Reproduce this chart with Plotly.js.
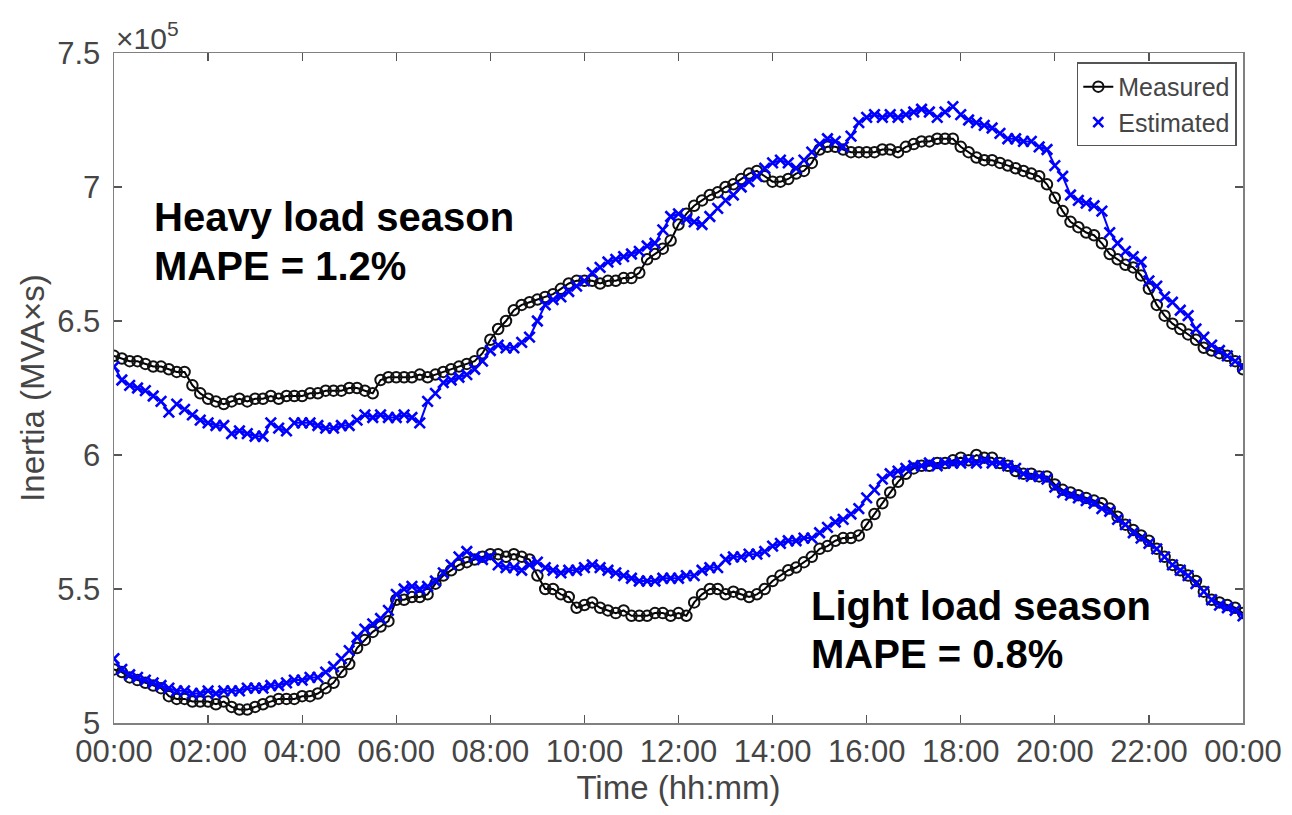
<!DOCTYPE html>
<html>
<head>
<meta charset="utf-8">
<script src="https://cdn.plot.ly/plotly-3.0.1.min.js"></script>
<style>html,body{margin:0;padding:0;background:#fff}#chart{width:1292px;height:815px}</style>
</head>
<body>
<div id="chart"></div>
<script>
// Sampling step: 10 minutes, 00:00 .. 24:00 (145 samples); values in units of 1e5 MVA*s
const stepMinutes = 10;
const tickHours = [0, 2, 4, 6, 8, 10, 12, 14, 16, 18, 20, 22, 24];
const tickLabels = ['00:00','02:00','04:00','06:00','08:00','10:00','12:00','14:00','16:00','18:00','20:00','22:00','00:00'];
const yTicks = [5, 5.5, 6, 6.5, 7, 7.5];
const yTickLabels = ['5', '5.5', '6', '6.5', '7', '7.5'];

const heavyMeasured = [
  6.37,6.36,6.35,6.35,6.34,6.33,
  6.33,6.32,6.31,6.31,6.26,6.23,
  6.21,6.20,6.19,6.20,6.21,6.20,
  6.21,6.21,6.22,6.21,6.22,6.22,
  6.22,6.23,6.23,6.24,6.24,6.24,
  6.25,6.25,6.24,6.23,6.28,6.29,
  6.29,6.29,6.29,6.30,6.29,6.30,
  6.31,6.32,6.33,6.34,6.35,6.38,
  6.43,6.47,6.50,6.54,6.56,6.57,
  6.58,6.59,6.60,6.62,6.64,6.65,
  6.65,6.65,6.64,6.65,6.65,6.66,
  6.66,6.68,6.73,6.75,6.77,6.80,
  6.86,6.90,6.93,6.95,6.97,6.98,
  7.00,7.01,7.03,7.05,7.06,7.04,
  7.02,7.02,7.03,7.05,7.06,7.09,
  7.14,7.15,7.15,7.14,7.13,7.13,
  7.13,7.13,7.14,7.14,7.13,7.15,
  7.16,7.17,7.17,7.18,7.18,7.18,
  7.15,7.13,7.11,7.10,7.10,7.09,
  7.08,7.07,7.06,7.05,7.04,7.01,
  6.96,6.91,6.87,6.85,6.83,6.82,
  6.79,6.75,6.73,6.71,6.70,6.67,
  6.62,6.56,6.52,6.49,6.47,6.45,
  6.43,6.40,6.39,6.38,6.37,6.35,
  6.32
];
const heavyEstimated = [
  6.33,6.28,6.26,6.25,6.24,6.22,
  6.20,6.16,6.19,6.17,6.15,6.13,
  6.12,6.11,6.11,6.08,6.09,6.08,
  6.07,6.07,6.12,6.10,6.09,6.12,
  6.12,6.12,6.11,6.10,6.10,6.11,
  6.11,6.13,6.15,6.14,6.15,6.14,
  6.14,6.15,6.14,6.12,6.20,6.23,
  6.27,6.28,6.29,6.30,6.32,6.35,
  6.39,6.41,6.40,6.40,6.42,6.44,
  6.50,6.56,6.58,6.59,6.61,6.63,
  6.65,6.68,6.70,6.72,6.73,6.74,
  6.75,6.76,6.78,6.79,6.84,6.89,
  6.90,6.88,6.87,6.86,6.89,6.92,
  6.95,6.97,7.00,7.02,7.04,7.07,
  7.09,7.10,7.09,7.07,7.10,7.13,
  7.16,7.18,7.17,7.15,7.19,7.24,
  7.26,7.27,7.26,7.27,7.26,7.27,
  7.28,7.29,7.28,7.26,7.28,7.30,
  7.27,7.25,7.24,7.23,7.22,7.20,
  7.18,7.18,7.17,7.17,7.15,7.14,
  7.08,7.04,6.97,6.95,6.94,6.93,
  6.91,6.83,6.79,6.76,6.74,6.72,
  6.65,6.63,6.59,6.57,6.54,6.52,
  6.47,6.44,6.41,6.39,6.37,6.35,
  6.33
];
const lightMeasured = [
  5.20,5.19,5.17,5.16,5.15,5.14,
  5.13,5.10,5.09,5.09,5.08,5.08,
  5.08,5.07,5.08,5.06,5.05,5.05,
  5.06,5.07,5.08,5.09,5.09,5.09,
  5.10,5.10,5.11,5.13,5.15,5.19,
  5.22,5.28,5.31,5.34,5.36,5.38,
  5.46,5.46,5.47,5.47,5.48,5.52,
  5.55,5.57,5.59,5.60,5.61,5.62,
  5.63,5.63,5.62,5.63,5.62,5.61,
  5.55,5.50,5.50,5.48,5.47,5.43,
  5.44,5.45,5.43,5.42,5.41,5.42,
  5.40,5.40,5.40,5.41,5.41,5.40,
  5.41,5.40,5.45,5.48,5.50,5.50,
  5.48,5.49,5.48,5.47,5.48,5.50,
  5.53,5.55,5.57,5.58,5.60,5.62,
  5.65,5.66,5.68,5.69,5.69,5.70,
  5.74,5.78,5.82,5.86,5.90,5.93,
  5.95,5.96,5.96,5.97,5.97,5.98,
  5.99,5.98,6.00,5.99,5.99,5.97,
  5.96,5.94,5.93,5.93,5.92,5.92,
  5.89,5.87,5.86,5.85,5.84,5.83,
  5.82,5.80,5.77,5.74,5.72,5.70,
  5.68,5.65,5.62,5.59,5.57,5.55,
  5.53,5.49,5.46,5.45,5.44,5.43,
  5.41
];
const lightEstimated = [
  5.24,5.20,5.18,5.17,5.16,5.15,
  5.14,5.13,5.12,5.12,5.11,5.11,
  5.12,5.11,5.12,5.12,5.12,5.13,
  5.13,5.13,5.14,5.14,5.15,5.16,
  5.16,5.17,5.17,5.19,5.21,5.24,
  5.27,5.32,5.35,5.37,5.39,5.42,
  5.48,5.50,5.51,5.50,5.51,5.53,
  5.56,5.59,5.62,5.64,5.62,5.61,
  5.62,5.59,5.58,5.58,5.57,5.59,
  5.60,5.58,5.57,5.56,5.57,5.57,
  5.58,5.59,5.58,5.57,5.56,5.55,
  5.54,5.53,5.53,5.53,5.54,5.54,
  5.54,5.55,5.55,5.57,5.58,5.58,
  5.61,5.62,5.62,5.63,5.63,5.64,
  5.66,5.67,5.68,5.68,5.69,5.69,
  5.71,5.73,5.75,5.76,5.78,5.80,
  5.84,5.87,5.91,5.93,5.94,5.95,
  5.96,5.96,5.97,5.96,5.97,5.97,
  5.97,5.98,5.97,5.98,5.97,5.97,
  5.96,5.95,5.93,5.92,5.92,5.91,
  5.88,5.86,5.85,5.84,5.83,5.82,
  5.80,5.79,5.76,5.74,5.71,5.69,
  5.67,5.65,5.62,5.59,5.57,5.55,
  5.52,5.49,5.46,5.44,5.43,5.42,
  5.40
];

const hours = heavyMeasured.map((_, i) => i * stepMinutes / 60);
const FONT = 'Liberation Sans, Arial, sans-serif';
const TXT = '#454545';

const measStyle = {
  mode: 'lines+markers',
  line: {color: '#000000', width: 2},
  marker: {symbol: 'circle-open', size: 10.5, color: '#111111', line: {width: 2, color: '#111111'}}
};
const estStyle = {
  mode: 'lines+markers',
  line: {color: '#0000ff', width: 2},
  marker: {symbol: 'x-thin-open', size: 10.5, color: '#0000ff', line: {width: 2.6, color: '#0000ff'}}
};

const traces = [
  Object.assign({x: hours, y: heavyMeasured, name: 'Measured', showlegend: true, legendrank: 1}, measStyle),
  Object.assign({x: hours, y: heavyEstimated, name: 'Estimated', showlegend: false}, estStyle),
  Object.assign({x: hours, y: lightMeasured, name: 'Measured', showlegend: false}, measStyle),
  Object.assign({x: hours, y: lightEstimated, name: 'Estimated', showlegend: false}, estStyle),
  {x: [null], y: [null], name: 'Estimated', mode: 'markers', showlegend: true, legendrank: 2,
   marker: {symbol: 'x-thin-open', size: 10, color: '#0000ff', line: {width: 2.6, color: '#0000ff'}}}
];

const axCommon = {
  showline: true, linecolor: '#808080', linewidth: 1.5, mirror: 'ticks',
  ticks: 'inside', ticklen: 8, tickwidth: 1.2, tickcolor: '#555',
  showgrid: false, zeroline: false,
  tickfont: {family: FONT, size: 31, color: TXT}
};

const layout = {
  width: 1292, height: 815,
  margin: {l: 114, r: 49, t: 53, b: 92},
  paper_bgcolor: '#ffffff', plot_bgcolor: '#ffffff',
  showlegend: true,
  legend: {
    x: 0.9945, y: 0.986, xanchor: 'right', yanchor: 'top',
    bordercolor: '#555', borderwidth: 1.5, bgcolor: '#ffffff',
    font: {family: FONT, size: 25, color: TXT},
    itemwidth: 30, tracegroupgap: 0
  },
  xaxis: Object.assign({}, axCommon, {
    range: [0, 24], tickvals: tickHours, ticktext: tickLabels, automargin: false,
    title: {text: 'Time (hh:mm)', font: {family: FONT, size: 33, color: TXT}, standoff: 6}
  }),
  yaxis: Object.assign({}, axCommon, {
    range: [5, 7.5], tickvals: yTicks, ticktext: yTickLabels, automargin: false,
    ticklabelstandoff: 6,
    title: {text: 'Inertia (MVA\u00d7s)', font: {family: FONT, size: 33, color: TXT}, standoff: 2}
  }),
  annotations: [
    {xref: 'paper', yref: 'paper', x: 0.0, y: 1.0, xanchor: 'left', yanchor: 'bottom', showarrow: false,
     text: '\u00d710<sup>5</sup>', font: {family: FONT, size: 30, color: TXT}, yshift: -4},
    {xref: 'x', yref: 'y', x: 0.8, y: 6.888, xanchor: 'left', yanchor: 'middle', showarrow: false, align: 'left',
     text: '<b>Heavy load season</b>', font: {family: FONT, size: 40, color: '#000000'}},
    {xref: 'x', yref: 'y', x: 0.8, y: 6.705, xanchor: 'left', yanchor: 'middle', showarrow: false, align: 'left',
     text: '<b>MAPE = 1.2%</b>', font: {family: FONT, size: 40, color: '#000000'}},
    {xref: 'x', yref: 'y', x: 14.78, y: 5.437, xanchor: 'left', yanchor: 'middle', showarrow: false, align: 'left',
     text: '<b>Light load season</b>', font: {family: FONT, size: 40, color: '#000000'}},
    {xref: 'x', yref: 'y', x: 14.78, y: 5.257, xanchor: 'left', yanchor: 'middle', showarrow: false, align: 'left',
     text: '<b>MAPE = 0.8%</b>', font: {family: FONT, size: 40, color: '#000000'}}
  ]
};

Plotly.newPlot('chart', traces, layout, {displayModeBar: false, staticPlot: true});
</script>
</body>
</html>
